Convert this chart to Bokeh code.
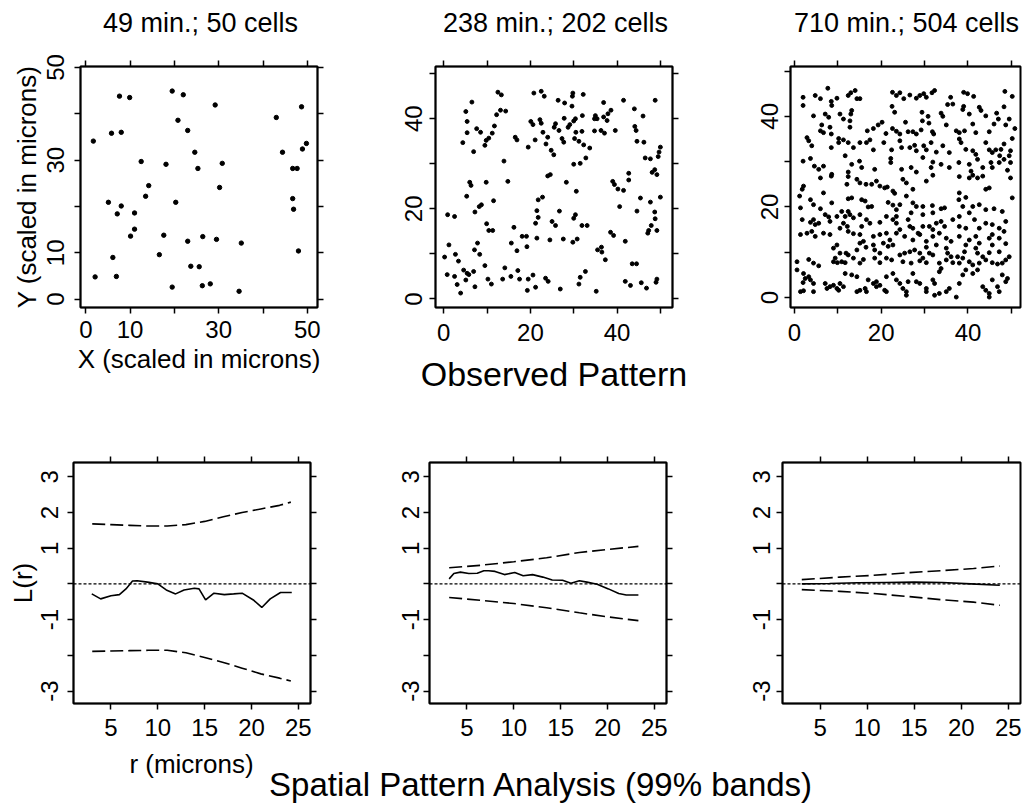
from bokeh.plotting import figure
from bokeh.layouts import row, column
from bokeh.models import Range1d, LinearAxis, FixedTicker, Span, Label
from bokeh.embed import file_html
from bokeh.resources import INLINE

FONT = "Liberation Sans"

# ---------------- data ----------------
titles = ["49 min.; 50 cells", "238 min.; 202 cells", "710 min.; 504 cells"]

xy_ticks = [0, 10, 20, 30, 40, 50]
p1_tick_labels = {0: "0", 10: "10", 20: "", 30: "30", 40: "", 50: "50"}
p23_tick_labels = {0: "0", 10: "", 20: "20", 30: "", 40: "40", 50: ""}
r_ticks = [5, 10, 15, 20, 25]
L_ticks = [-3, -2, -1, 0, 1, 2, 3]
L_tick_labels = {3: "3", 2: "2", 1: "1", 0: "", -1: "-1", -2: "", -3: "-3"}

# 49 min: cell positions (x, y) in microns
cells_49 = [
    (19.5, 44.9), (22.0, 44.1), (7.6, 43.8), (9.9, 43.5), (29.2, 41.9), (48.7, 41.5), (43.0, 39.2), (20.8, 38.6),
    (23.0, 36.4), (5.8, 35.8), (8.0, 36.0), (1.7, 34.1), (49.8, 33.6), (48.9, 32.4), (44.4, 31.7), (24.6, 31.7),
    (12.5, 29.7), (18.1, 29.1), (30.8, 29.3), (25.3, 28.2), (46.7, 28.2), (47.7, 28.2), (14.2, 24.5), (30.2, 24.1),
    (13.5, 22.2), (46.7, 21.7), (5.1, 20.9), (20.3, 20.9), (8.0, 20.1), (46.9, 19.4), (7.1, 18.4), (11.0, 18.6),
    (11.0, 15.1), (10.1, 13.6), (17.6, 13.8), (26.4, 13.5), (29.5, 12.9), (23.0, 12.5), (35.1, 12.1), (16.6, 9.6),
    (6.1, 9.0), (48.0, 10.4), (23.7, 7.1), (25.6, 7.0), (2.1, 4.8), (6.9, 4.9), (19.5, 2.6), (26.3, 2.9),
    (28.1, 3.3), (34.6, 1.7),
]

# 238 min: cell positions
cells_238 = [
    (12.5, 45.9), (13.3, 45.3), (6.5, 43.7), (5.1, 41.6), (5.4, 39.4), (7.6, 37.8), (8.5, 37.0), (5.4, 36.9),
    (4.4, 34.7), (6.9, 32.7), (9.8, 35.2), (10.4, 35.7), (11.2, 36.8), (9.5, 34.1), (11.7, 38.4), (12.2, 40.9),
    (13.1, 41.9), (14.3, 41.7), (13.9, 30.6), (16.5, 35.9), (16.9, 35.3), (19.5, 33.7), (20.1, 39.4), (20.6, 38.7),
    (21.1, 35.3), (20.8, 45.7), (22.5, 46.1), (23.2, 45.0), (22.2, 39.8), (22.5, 39.0), (22.9, 37.0), (23.6, 34.4),
    (24.8, 33.0), (25.4, 32.0), (24.0, 35.9), (25.5, 38.1), (25.8, 38.9), (26.6, 37.4), (26.4, 44.1), (27.9, 43.5),
    (27.8, 40.1), (29.1, 38.7), (28.7, 38.1), (30.0, 39.5), (30.4, 40.0), (29.8, 45.7), (29.7, 45.0), (29.6, 42.8),
    (27.3, 35.6), (27.7, 34.8), (30.5, 37.0), (30.2, 35.6), (31.9, 37.2), (31.2, 35.0), (32.2, 45.4), (32.0, 40.7),
    (32.3, 34.2), (33.7, 33.5), (30.0, 29.9), (31.5, 30.1), (32.8, 31.3), (34.8, 37.3), (34.8, 40.0),
    (6.0, 25.9), (6.3, 25.2), (9.8, 25.9), (14.8, 26.1), (5.3, 22.8), (8.2, 20.5), (8.7, 20.9), (7.2, 19.3),
    (11.5, 21.8), (24.0, 27.3), (24.6, 27.6), (28.3, 25.9), (30.6, 23.9), (21.8, 22.0), (22.8, 22.6), (21.5, 19.6),
    (21.8, 18.1), (21.2, 16.8), (26.7, 19.5), (25.0, 17.2), (25.8, 16.3), (30.0, 17.9), (30.4, 18.7), (31.9, 16.3),
    (33.1, 16.3), (0.9, 18.7), (2.5, 18.3), (9.9, 16.7), (10.4, 15.2), (11.3, 15.2), (16.2, 15.9), (18.1, 13.9),
    (19.1, 13.9), (21.5, 13.5), (24.5, 13.1), (27.6, 13.3), (29.8, 12.6), (30.8, 13.3), (15.6, 12.4), (16.9, 10.7),
    (19.2, 11.6), (1.2, 12.0), (0.2, 9.3), (2.7, 9.9), (3.4, 8.4), (7.8, 12.4), (7.1, 10.9), (8.3, 9.9),
    (0.8, 5.4), (2.5, 5.0), (4.6, 6.4), (5.4, 5.7), (3.1, 3.2), (3.9, 1.3), (5.1, 4.2), (5.8, 5.4),
    (6.9, 6.1), (7.2, 2.7), (9.5, 7.4), (10.2, 4.4), (11.0, 3.3), (13.6, 4.4), (14.1, 6.9), (15.5, 5.0),
    (17.1, 6.3), (17.5, 4.4), (19.5, 4.4), (19.3, 1.9), (20.6, 5.3), (21.2, 2.6), (23.5, 4.6), (24.1, 3.9),
    (26.9, 2.2), (31.2, 3.3), (31.5, 4.8), (32.7, 6.1), (35.2, 1.7),
    (36.9, 43.6), (41.5, 44.1), (48.8, 44.1), (44.0, 42.2), (38.6, 41.9), (37.9, 41.1), (35.0, 40.7), (35.4, 40.0),
    (36.9, 40.4), (37.7, 39.6), (46.0, 40.6), (36.3, 37.4), (37.1, 36.8), (39.6, 37.4), (44.1, 38.3), (44.4, 37.4),
    (44.6, 35.0), (46.2, 34.8), (50.0, 33.7), (49.7, 32.6), (49.5, 31.6), (46.5, 31.3), (47.7, 31.1), (48.1, 28.1),
    (49.2, 27.6), (48.7, 28.7), (42.7, 27.9), (42.7, 26.4), (39.0, 26.1), (39.4, 25.4), (40.2, 24.4), (41.5, 24.1),
    (45.4, 22.4), (47.7, 21.5), (50.0, 22.6), (40.6, 20.5), (44.6, 19.5), (48.7, 19.3), (48.8, 17.8), (47.9, 16.3),
    (47.3, 15.2), (47.1, 14.6), (49.2, 15.2), (38.5, 14.8), (39.2, 14.1), (41.9, 12.8), (37.3, 8.7), (35.5, 10.9),
    (36.4, 11.5), (36.5, 10.4), (43.5, 7.8), (44.5, 7.8), (41.9, 3.9), (43.1, 3.0), (45.6, 3.6), (46.8, 2.4),
    (49.0, 3.7), (49.2, 4.4),
]

# 710 min: cell positions
cells_710 = [
    (2.0, 44.2), (4.8, 44.6), (6.0, 43.9), (7.7, 46.2), (8.5, 43.3), (9.8, 44.0), (12.4, 44.6), (13.0, 45.2),
    (14.0, 45.7), (14.4, 43.9), (15.1, 43.9), (22.6, 45.3), (23.5, 44.6), (24.3, 45.2), (25.2, 43.9), (26.6, 44.7),
    (28.1, 44.0), (28.9, 44.6), (29.8, 45.0), (30.4, 44.2), (31.7, 45.2), (32.3, 45.7), (36.0, 44.2), (35.3, 42.6),
    (36.5, 42.7), (39.0, 45.3), (39.9, 45.0), (41.3, 44.4), (48.5, 45.5), (50.2, 44.4),
    (2.0, 42.4), (4.4, 40.1), (7.1, 40.5), (7.9, 39.8), (8.6, 42.4), (10.5, 40.5), (11.3, 39.4), (13.0, 40.5),
    (13.2, 41.3), (22.5, 42.2), (23.1, 40.9), (29.4, 40.9), (30.8, 40.0), (33.8, 40.7), (34.2, 40.0), (39.0, 42.2),
    (38.8, 41.5), (40.3, 40.5), (42.6, 42.0), (43.0, 41.3), (44.1, 40.1), (46.6, 40.7), (48.3, 42.1), (49.5, 39.4),
    (47.0, 39.4),
    (6.3, 38.1), (6.0, 36.8), (6.7, 36.4), (8.2, 37.6), (8.5, 36.1), (10.2, 35.1), (12.8, 39.0), (12.8, 37.6),
    (16.8, 36.8), (18.2, 37.3), (19.3, 38.1), (20.2, 38.7), (21.1, 36.2), (22.6, 37.3), (23.5, 36.7), (24.3, 36.1),
    (25.6, 38.7), (26.2, 36.6), (27.3, 36.6), (28.1, 36.1), (29.2, 37.0), (29.5, 39.0), (31.0, 38.5), (31.8, 36.6),
    (32.1, 36.1), (35.0, 38.1), (37.3, 36.8), (38.0, 36.4), (39.2, 36.8), (41.1, 38.3), (41.8, 36.4), (44.9, 36.6),
    (46.0, 38.3), (48.7, 38.1), (50.8, 37.3), (50.2, 35.1), (2.9, 35.3), (3.3, 34.6),
    (8.5, 33.1), (10.2, 34.2), (11.3, 34.8), (12.4, 34.2), (13.6, 33.1), (15.1, 34.2), (16.6, 34.2), (17.4, 34.8),
    (18.2, 32.6), (20.6, 34.2), (22.4, 32.6), (24.3, 34.6), (24.7, 33.1), (26.6, 33.1), (27.7, 33.6), (28.1, 32.4),
    (29.8, 33.5), (30.4, 32.6), (31.5, 34.2), (32.7, 32.1), (34.2, 33.5), (35.7, 32.0), (38.0, 35.0), (38.4, 34.2),
    (39.5, 32.7), (41.1, 32.4), (41.8, 31.6), (44.1, 34.2), (44.9, 32.6), (45.6, 32.0), (46.4, 32.6), (47.6, 32.7),
    (48.3, 33.9), (49.8, 32.4), (49.5, 31.3), (47.3, 31.3), (4.0, 33.5),
    (2.0, 30.1), (3.7, 30.7), (4.6, 29.0), (5.6, 28.3), (6.7, 29.0), (8.6, 27.2), (11.7, 31.3), (13.2, 29.4),
    (12.4, 27.7), (15.0, 30.1), (15.5, 28.7), (18.5, 28.3), (22.2, 30.7), (22.2, 29.8), (24.7, 28.3), (26.9, 28.7),
    (28.1, 27.7), (29.6, 30.9), (31.5, 28.7), (31.9, 29.9), (33.8, 29.4), (35.7, 28.7), (37.9, 29.8), (40.3, 29.4),
    (40.7, 27.9), (42.2, 30.5), (43.4, 28.7), (45.3, 29.8), (45.6, 28.7), (47.2, 29.8), (48.3, 30.5), (49.1, 28.1),
    (49.8, 29.8),
    (6.0, 26.4), (8.5, 26.8), (12.4, 26.7), (14.4, 26.1), (15.1, 25.3), (16.5, 25.0), (17.8, 25.0), (18.9, 25.7),
    (19.7, 24.6), (20.8, 24.2), (21.4, 24.4), (22.7, 23.5), (23.1, 23.0), (25.0, 26.1), (25.8, 25.3), (27.3, 23.9),
    (30.4, 25.7), (31.9, 27.0), (38.0, 26.7), (40.3, 26.4), (41.1, 27.0), (42.2, 26.4), (43.4, 26.8), (44.9, 24.2),
    (44.1, 23.9), (49.8, 26.4), (50.2, 22.0), (2.1, 24.6), (1.8, 23.9), (6.7, 23.1), (12.1, 25.0),
    (1.2, 22.4), (3.7, 21.6), (4.4, 20.5), (1.4, 19.8), (6.0, 19.6), (8.6, 20.9), (12.4, 21.8), (13.2, 22.0),
    (15.5, 21.6), (16.3, 21.3), (17.0, 20.0), (17.8, 20.1), (21.6, 21.0), (22.7, 20.4), (23.5, 19.4), (24.3, 20.5),
    (25.8, 22.4), (27.3, 20.9), (28.1, 20.1), (29.6, 20.1), (31.8, 20.3), (33.8, 19.6), (34.6, 19.8), (38.0, 23.1),
    (37.9, 21.6), (38.8, 20.1), (39.5, 22.1), (41.1, 20.1), (42.6, 20.5), (44.1, 19.4), (46.0, 19.6), (47.9, 19.0),
    (48.7, 16.8), (26.9, 18.7), (29.6, 18.3), (23.5, 17.9), (31.9, 18.7), (38.0, 17.9), (40.3, 18.7),
    (1.8, 17.2), (3.7, 16.6), (4.4, 17.2), (4.8, 16.1), (5.6, 16.4), (7.1, 18.3), (7.9, 17.8), (8.2, 16.8),
    (9.8, 17.9), (10.9, 19.0), (11.7, 17.9), (12.4, 19.0), (12.8, 18.3), (11.3, 16.4), (12.2, 15.7), (13.6, 17.6),
    (15.1, 18.3), (16.6, 17.2), (17.4, 16.4), (15.5, 15.7), (19.7, 16.6), (21.2, 17.9), (22.7, 17.2), (23.5, 16.4),
    (24.3, 15.0), (26.2, 17.2), (26.6, 15.7), (27.3, 15.3), (28.5, 14.2), (29.6, 15.7), (31.1, 15.7), (31.9, 15.0),
    (32.7, 16.4), (33.8, 16.8), (34.6, 15.7), (36.5, 17.2), (38.0, 15.7), (39.5, 15.3), (41.5, 17.2), (42.6, 15.3),
    (44.1, 16.4), (45.6, 16.1), (47.2, 15.3), (48.3, 14.6), (1.4, 13.9), (2.9, 14.2), (4.0, 14.6), (4.8, 13.5),
    (6.7, 14.2), (8.2, 13.9), (10.5, 15.3), (12.4, 14.6), (13.6, 14.1), (15.1, 13.9), (15.9, 12.4), (18.2, 13.5),
    (19.7, 13.9), (21.2, 14.2), (22.0, 12.7), (23.5, 14.2), (25.4, 13.5), (27.3, 12.7), (28.9, 13.9), (30.4, 12.4),
    (31.9, 13.5), (33.4, 14.2), (35.0, 13.1), (36.1, 12.4), (38.0, 13.5), (39.5, 11.6), (40.3, 12.7), (41.8, 13.5),
    (42.6, 12.0), (44.9, 13.1), (45.6, 13.9), (47.2, 13.1), (48.7, 11.9),
    (9.8, 11.6), (9.0, 10.9), (10.5, 9.8), (11.9, 9.8), (12.4, 9.4), (14.4, 10.5), (15.1, 12.0), (16.5, 11.1),
    (18.2, 11.6), (18.5, 10.5), (19.7, 9.8), (20.5, 12.0), (21.6, 11.3), (22.7, 11.6), (24.3, 9.4), (25.4, 9.8),
    (26.6, 10.1), (27.7, 10.5), (28.9, 9.8), (30.4, 11.1), (31.1, 9.8), (32.7, 11.6), (35.0, 10.9), (35.3, 9.8),
    (36.1, 9.0), (37.6, 9.0), (39.2, 10.1), (41.8, 10.9), (42.2, 9.8), (43.4, 9.0), (44.9, 9.9), (45.6, 11.6),
    (47.2, 10.1), (48.7, 8.3), (9.4, 8.7), (9.0, 7.9), (9.9, 7.7), (10.9, 7.9), (11.7, 7.7), (13.6, 8.7),
    (15.1, 7.6), (15.9, 8.4), (18.5, 8.7), (19.7, 7.7), (21.2, 8.7), (22.4, 8.3), (25.0, 7.9), (26.9, 7.6),
    (28.9, 8.1), (29.6, 8.7), (30.4, 7.7), (31.9, 9.4), (33.4, 7.6), (35.0, 8.3), (36.5, 7.7), (38.0, 7.6),
    (38.8, 8.7), (40.3, 7.9), (41.1, 7.2), (42.6, 7.6), (44.1, 8.3), (45.6, 7.7), (46.8, 7.4), (47.9, 7.6),
    (49.5, 9.0), (0.6, 7.9), (3.3, 8.4), (4.4, 7.6), (5.6, 7.0),
    (0.6, 6.1), (2.1, 5.3), (2.5, 4.2), (2.0, 3.3), (3.3, 4.6), (3.7, 3.9), (4.4, 3.1), (7.1, 3.1),
    (8.2, 2.4), (9.0, 2.7), (9.8, 2.0), (10.5, 3.1), (11.3, 2.4), (11.7, 5.3), (13.2, 5.0), (14.4, 4.6),
    (15.1, 1.6), (16.3, 2.0), (17.0, 3.9), (18.2, 3.1), (18.9, 3.5), (19.7, 2.7), (20.8, 1.6), (21.2, 4.6),
    (22.7, 5.3), (23.5, 3.9), (24.3, 3.1), (25.0, 2.0), (25.8, 1.3), (26.2, 3.5), (27.3, 5.3), (28.1, 3.5),
    (28.9, 3.1), (30.4, 2.0), (31.9, 3.9), (32.3, 3.1), (33.4, 5.7), (33.8, 6.4), (35.0, 1.3), (35.7, 2.0),
    (38.0, 3.1), (38.8, 5.0), (39.5, 6.1), (41.1, 5.3), (42.2, 6.1), (43.4, 2.4), (44.1, 1.6), (44.9, 0.9),
    (45.6, 3.9), (46.8, 2.4), (47.9, 5.0), (49.1, 4.2), (48.7, 3.5), (1.4, 1.3), (2.1, 1.5), (4.4, 1.3),
    (7.5, 2.0), (10.2, 1.6), (14.4, 1.3), (16.6, 1.3), (18.9, 2.4), (21.2, 1.3), (25.8, 0.5), (30.4, 1.3),
    (32.3, 0.5), (33.4, 0.9), (37.3, 0.1), (44.9, 0.1), (47.2, 1.3),
]

# L(r) analysis: 99% envelope bands and observed L(r)
r_band_49 = [3.0, 5.0, 7.0, 9.0, 11.0, 13.0, 15.0, 17.0, 19.0, 21.0, 23.0, 24.2]
upper_49 = [1.68, 1.66, 1.64, 1.62, 1.62, 1.66, 1.75, 1.88, 2.0, 2.1, 2.2, 2.29]
lower_49 = [-1.89, -1.88, -1.87, -1.86, -1.86, -1.93, -2.06, -2.2, -2.36, -2.52, -2.64, -2.72]
r_obs_49 = [2.95, 3.9, 5.0, 5.9, 6.6, 7.3, 7.8, 8.9, 10.0, 10.9, 11.9, 12.8, 13.9, 14.4, 15.1, 16.0,
            17.1, 18.1, 19.0, 20.2, 21.1, 22.0, 23.1, 24.3]
obs_49 = [-0.28, -0.42, -0.33, -0.30, -0.14, 0.08, 0.09, 0.05, 0.0, -0.17, -0.28, -0.17, -0.12, -0.14,
          -0.45, -0.26, -0.30, -0.28, -0.26, -0.45, -0.66, -0.42, -0.24, -0.24]

r_band_238 = [3.1, 6.4, 10.0, 13.5, 17.0, 20.2, 23.3]
upper_238 = [0.45, 0.52, 0.62, 0.73, 0.88, 0.97, 1.05]
lower_238 = [-0.38, -0.46, -0.55, -0.67, -0.81, -0.93, -1.03]
r_obs_238 = [3.1, 3.6, 4.3, 5.2, 6.1, 6.8, 7.3, 8.0, 9.0, 10.1, 11.0, 12.0, 13.1, 14.1, 15.2, 16.1,
             17.0, 17.8, 18.9, 20.1, 21.2, 22.0, 23.3]
obs_238 = [0.14, 0.29, 0.33, 0.29, 0.30, 0.37, 0.37, 0.35, 0.26, 0.32, 0.23, 0.26, 0.19, 0.11, 0.10, 0.02,
           0.09, 0.05, -0.01, -0.14, -0.27, -0.31, -0.31]

r_band_710 = [3.05, 7.1, 10.7, 14.2, 17.8, 21.3, 24.1]
upper_710 = [0.12, 0.19, 0.24, 0.31, 0.37, 0.43, 0.50]
lower_710 = [-0.16, -0.21, -0.27, -0.35, -0.44, -0.51, -0.60]
r_obs_710 = [3.05, 6.0, 9.0, 12.0, 15.0, 18.0, 21.0, 24.1]
obs_710 = [0.0, 0.01, 0.03, 0.04, 0.05, 0.04, 0.0, -0.04]

# ---------------- helpers ----------------
TICK_FONT = "24px"


def make_fig(w, h, bl, br, bt, bb, xr, yr):
    p = figure(width=w, height=h, x_range=Range1d(*xr), y_range=Range1d(*yr),
               output_backend="svg", toolbar_location=None, title=None,
               min_border_left=bl, min_border_right=br, min_border_top=bt, min_border_bottom=bb)
    p.grid.visible = False
    p.outline_line_color = "black"
    p.outline_line_width = 2
    p.outline_line_alpha = 1.0
    p.background_fill_color = "white"
    p.border_fill_color = "white"
    return p


def text_strip(w, h):
    p = figure(width=w, height=h, x_range=Range1d(0, 1), y_range=Range1d(0, 1),
               output_backend="svg", toolbar_location=None, min_border=0, title=None)
    p.axis.visible = False
    p.grid.visible = False
    p.outline_line_color = None
    p.border_fill_color = "white"
    p.background_fill_color = "white"
    return p


def style_axis(ax, ticks, labels=None, size=TICK_FONT, standoff=7, vertical=False):
    ax.ticker = FixedTicker(ticks=ticks)
    if labels is not None:
        ax.major_label_overrides = labels
    ax.major_tick_in = 0
    ax.major_tick_out = 6
    ax.major_tick_line_color = "black"
    ax.major_tick_line_width = 1.5
    ax.minor_tick_line_color = None
    ax.axis_line_color = "black"
    ax.axis_line_width = 1.5
    ax.major_label_text_font = FONT
    ax.major_label_text_font_size = size
    ax.major_label_text_color = "black"
    ax.major_label_standoff = standoff
    if vertical:
        ax.major_label_orientation = "vertical"


def axis_title(ax, text, size="26px", standoff=2):
    ax.axis_label = text
    ax.axis_label_text_font = FONT
    ax.axis_label_text_font_size = size
    ax.axis_label_text_font_style = "normal"
    ax.axis_label_text_color = "black"
    ax.axis_label_standoff = standoff


def tick_only_axis(ticks):
    ax = LinearAxis()
    style_axis(ax, ticks, size="1px", standoff=0)
    ax.major_label_text_color = None
    ax.major_label_text_alpha = 0
    return ax


def add_tick_axes(p, xticks, yticks, right=True):
    p.add_layout(tick_only_axis(xticks), "above")
    if right:
        p.add_layout(tick_only_axis(yticks), "right")


def strip_label(p, text, cx, cy, size):
    p.add_layout(Label(x=cx, y=cy, x_units="screen", y_units="screen", text=text,
                       text_align="center", text_baseline="middle",
                       text_font=FONT, text_font_size=size, text_color="black"))


# ---------------- title strip ----------------
HEAD_H = 44
head = text_strip(1022, HEAD_H)
for t, cx in zip(titles, (200, 555, 906)):
    strip_label(head, t, cx, HEAD_H - 22, "27px")

# ---------------- top row: observed patterns ----------------
TOP_H = 356
p1 = make_fig(363, TOP_H, 80, 46, 22, 93, (-1.2, 52.3), (-1.8, 50.2))
p2 = make_fig(355, TOP_H, 72, 46, 22, 93, (-1.9, 52.8), (-1.9, 51.6))
p3 = make_fig(304, TOP_H, 72, 2, 22, 93, (-0.9, 52.1), (-2.2, 51.0))

for p, cells, sz in ((p1, cells_49, 4.4), (p2, cells_238, 3.9), (p3, cells_710, 3.9)):
    p.scatter([c[0] for c in cells], [c[1] for c in cells], size=sz, color="black")

style_axis(p1.xaxis[0], xy_ticks, p1_tick_labels, standoff=7)
style_axis(p1.yaxis[0], xy_ticks, p1_tick_labels, standoff=10, vertical=True)
axis_title(p1.xaxis[0], "X (scaled in microns)", standoff=3)
axis_title(p1.yaxis[0], "Y (scaled in microns)", standoff=3)

style_axis(p2.xaxis[0], xy_ticks, p23_tick_labels, standoff=10)
style_axis(p2.yaxis[0], xy_ticks, p23_tick_labels, standoff=7, vertical=True)
axis_title(p2.xaxis[0], "Observed Pattern", size="34px", standoff=11)

style_axis(p3.xaxis[0], xy_ticks, p23_tick_labels, standoff=10)
style_axis(p3.yaxis[0], xy_ticks, p23_tick_labels, standoff=6, vertical=True)

add_tick_axes(p1, xy_ticks, xy_ticks)
add_tick_axes(p2, xy_ticks, xy_ticks)
add_tick_axes(p3, xy_ticks, xy_ticks, right=False)

# ---------------- bottom row: L(r) analysis ----------------
BOT_H = 348
XR = (1.0, 26.3)
YR = (-3.35, 3.4)
p4 = make_fig(363, BOT_H, 73, 53, 62, 45, XR, YR)
p5 = make_fig(355, BOT_H, 66, 52, 62, 45, XR, YR)
p6 = make_fig(304, BOT_H, 64, 2, 62, 45, XR, YR)

panels = (
    (p4, r_band_49, upper_49, lower_49, r_obs_49, obs_49),
    (p5, r_band_238, upper_238, lower_238, r_obs_238, obs_238),
    (p6, r_band_710, upper_710, lower_710, r_obs_710, obs_710),
)
for p, rb, up, lo, ro, ob in panels:
    p.add_layout(Span(location=0, dimension="width", line_color="black",
                      line_dash="3 2", line_width=1.4))
    p.line(rb, up, line_color="black", line_width=1.6, line_dash="13 5")
    p.line(rb, lo, line_color="black", line_width=1.6, line_dash="13 5")
    p.line(ro, ob, line_color="black", line_width=1.6)
    style_axis(p.xaxis[0], r_ticks, None, standoff=9)

style_axis(p4.yaxis[0], L_ticks, L_tick_labels, standoff=9, vertical=True)
style_axis(p5.yaxis[0], L_ticks, L_tick_labels, standoff=4, vertical=True)
style_axis(p6.yaxis[0], L_ticks, L_tick_labels, standoff=6, vertical=True)
axis_title(p4.yaxis[0], "L(r)", standoff=1)

add_tick_axes(p4, r_ticks, L_ticks)
add_tick_axes(p5, r_ticks, L_ticks)
add_tick_axes(p6, r_ticks, L_ticks, right=False)

# ---------------- foot strip: r axis title + overall caption ----------------
FOOT_H = 56
foot = text_strip(1022, FOOT_H)
strip_label(foot, "r (microns)", 191, FOOT_H - 15, "26px")
strip_label(foot, "Spatial Pattern Analysis (99% bands)", 541, 20, "33px")

layout = column(head, row(p1, p2, p3), row(p4, p5, p6), foot)

with open("out.html", "w") as f:
    f.write(file_html(layout, INLINE))
